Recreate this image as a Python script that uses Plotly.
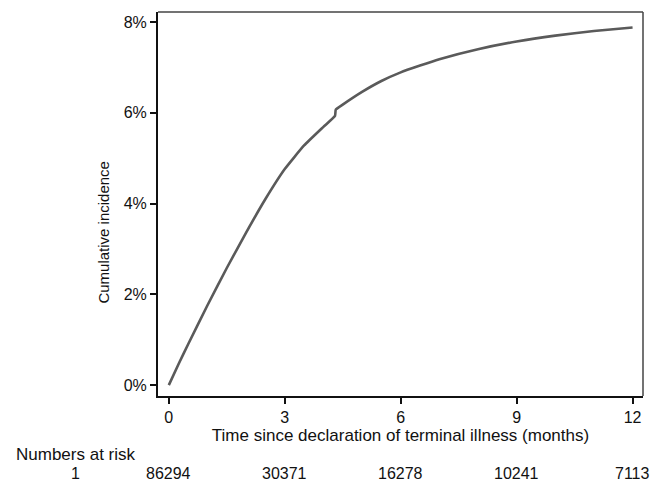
import plotly.graph_objects as go

# Cumulative incidence curve (months, percent)
months = [0, 0.25, 0.5, 1.0, 1.5, 2.0, 2.5, 3.0, 3.5, 4.0, 4.3, 4.32, 4.5, 5.0, 5.5, 6.0, 6.5, 7.0, 8.0, 9.0, 10.0, 11.0, 12.0]
incidence = [0.0, 0.46, 0.90, 1.76, 2.58, 3.36, 4.10, 4.76, 5.28, 5.69, 5.93, 6.07, 6.18, 6.46, 6.70, 6.89, 7.04, 7.18, 7.40, 7.57, 7.70, 7.80, 7.88]

x_ticks = [0, 3, 6, 9, 12]
y_ticks = [0, 2, 4, 6, 8]
y_tick_labels = ["0%", "2%", "4%", "6%", "8%"]

# Numbers at risk table
risk_times = [0, 3, 6, 9, 12]
risk_counts = [86294, 30371, 16278, 10241, 7113]
risk_group = "1"

FONT = "Liberation Sans, Arial, sans-serif"

fig = go.Figure()
fig.add_trace(go.Scatter(
    x=months, y=incidence, mode="lines",
    line=dict(color="#5a5a5a", width=2.6, shape="spline", smoothing=0.4),
    showlegend=False, hoverinfo="skip",
))

annotations = [
    dict(text="Cumulative incidence", xref="paper", yref="paper", x=-0.113, y=0.426,
         xanchor="center", yanchor="middle", textangle=-90, showarrow=False,
         font=dict(family=FONT, size=15, color="#111")),
    dict(text="Numbers at risk", xref="paper", yref="paper", x=-0.296, y=-0.153,
         xanchor="left", yanchor="middle", showarrow=False,
         font=dict(family=FONT, size=17, color="#111")),
    dict(text=risk_group, xref="paper", yref="paper", x=-0.17, y=-0.203,
         xanchor="center", yanchor="middle", showarrow=False,
         font=dict(family=FONT, size=16, color="#111")),
]
for t, c in zip(risk_times, risk_counts):
    annotations.append(dict(text=str(c), xref="x", yref="paper", x=t, y=-0.203,
                            xanchor="center", yanchor="middle", showarrow=False,
                            font=dict(family=FONT, size=16, color="#111")))

fig.update_layout(
    width=655, height=483,
    margin=dict(l=158, r=12, t=12, b=87),
    paper_bgcolor="white", plot_bgcolor="white",
    font=dict(family=FONT, size=16, color="#111"),
    annotations=annotations,
    shapes=[
        dict(type="line", xref="paper", yref="paper", x0=0, x1=1, y0=1, y1=1,
             line=dict(color="#444", width=1.5)),
        dict(type="line", xref="paper", yref="paper", x0=1, x1=1, y0=0, y1=1,
             line=dict(color="#444", width=1.5)),
    ],
    xaxis=dict(
        range=[-0.28, 12.27], tickvals=x_ticks, ticks="outside", ticklen=6,
        tickwidth=1.5, tickcolor="#111", showline=True, linecolor="#111", linewidth=2,
        showgrid=False, zeroline=False,
        title=dict(text="Time since declaration of terminal illness (months)",
                   font=dict(size=17), standoff=2),
        tickfont=dict(size=16),
    ),
    yaxis=dict(
        range=[-0.24, 8.22], tickvals=y_ticks, ticktext=y_tick_labels, ticks="outside",
        ticklen=6, tickwidth=1.5, tickcolor="#111", showline=True, linecolor="#111",
        linewidth=2, showgrid=False, zeroline=False,
        tickfont=dict(size=16),
    ),
)

fig.write_html(
    "out.html",
    config={"displayModeBar": False},
    post_script="document.body.style.margin='0';document.body.style.overflow='hidden';",
)
